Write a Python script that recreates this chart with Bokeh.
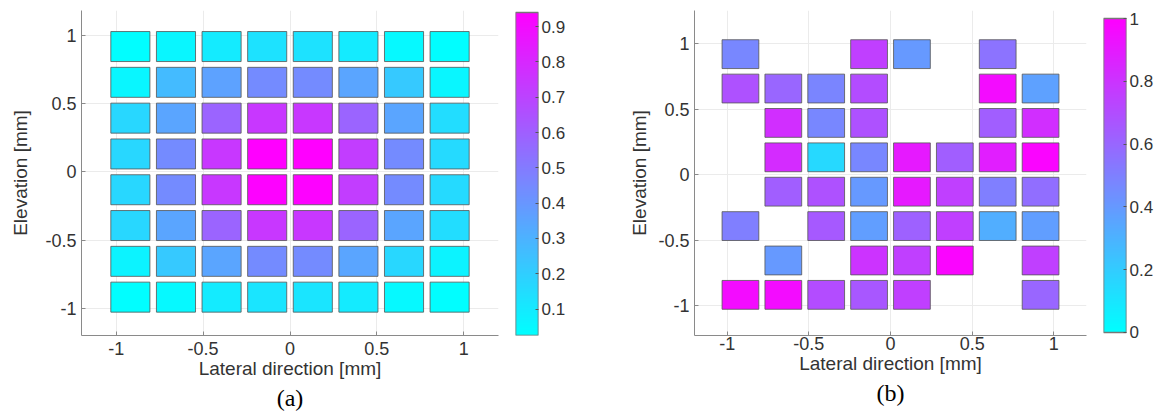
import numpy as np
from bokeh.plotting import figure
from bokeh.models import (ColumnDataSource, LinearColorMapper, Range1d, FixedTicker,
                          Title, CustomJSTickFormatter)
from bokeh.layouts import row
from bokeh.embed import file_html
from bokeh.resources import INLINE

# ---------------- data ----------------
# element centre positions (mm), lateral left->right, elevation top->bottom
lateral_pos = [-0.91875, -0.65625, -0.39375, -0.13125, 0.13125, 0.39375, 0.65625, 0.91875]
elevation_pos = [0.91875, 0.65625, 0.39375, 0.13125, -0.13125, -0.39375, -0.65625, -0.91875]

# panel (a): rows top -> bottom
values_a = [
    [0.03, 0.06, 0.10, 0.13, 0.13, 0.10, 0.05, 0.03],
    [0.06, 0.27, 0.36, 0.44, 0.44, 0.35, 0.22, 0.06],
    [0.17, 0.35, 0.58, 0.74, 0.74, 0.58, 0.35, 0.15],
    [0.17, 0.44, 0.74, 0.94, 0.94, 0.72, 0.44, 0.16],
    [0.17, 0.44, 0.74, 0.93, 0.93, 0.72, 0.44, 0.16],
    [0.17, 0.35, 0.58, 0.74, 0.74, 0.58, 0.35, 0.15],
    [0.07, 0.22, 0.35, 0.44, 0.44, 0.35, 0.17, 0.07],
    [0.03, 0.05, 0.10, 0.12, 0.12, 0.10, 0.05, 0.03],
]
# panel (b): rows top -> bottom, None = inactive element
values_b = [
    [0.47, None, None, 0.75, 0.40, None, 0.55, None],
    [0.68, 0.60, 0.48, 0.70, None, None, 0.95, 0.37],
    [None, 0.82, 0.47, 0.68, None, None, 0.63, 0.82],
    [None, 0.83, 0.15, 0.47, 0.90, 0.63, 0.88, 0.98],
    [None, 0.63, 0.68, 0.40, 0.90, 0.75, 0.50, 0.57],
    [0.50, None, 0.65, 0.38, 0.62, 0.75, 0.32, 0.38],
    [None, 0.40, None, 0.80, 0.75, 0.98, None, 0.75],
    [0.95, 0.95, 0.70, 0.66, 0.75, None, None, 0.60],
]

axis_ticks = [-1, -0.5, 0, 0.5, 1]
cbar_a_range = [0.025, 0.94]
cbar_a_ticks = [0.1, 0.2, 0.3, 0.4, 0.5, 0.6, 0.7, 0.8, 0.9]
cbar_b_range = [0.0, 1.0]
cbar_b_ticks = [0, 0.2, 0.4, 0.6, 0.8, 1]

x_label = "Lateral direction [mm]"
y_label = "Elevation [mm]"
captions = ["(a)", "(b)"]

# MATLAB "cool" colormap
cool = ["#%02x%02xff" % (i, 255 - i) for i in range(256)]

FONT = "Liberation Sans"
TXT = "#333333"
AX = "#8a8a8a"
H = 416
TOP = 10      # frame top (all frames in the row are aligned)
BOTTOM = 81   # space under the frames
fmt = CustomJSTickFormatter(code="return tick.toString();")


def panel(values, rng, caption, width, bl, br, yview, xl_standoff, ylab_standoff):
    mapper = LinearColorMapper(palette=cool, low=rng[0], high=rng[1])
    xs, ys, vs = [], [], []
    for r, rv in enumerate(values):
        for c, v in enumerate(rv):
            if v is None:
                continue
            xs.append(lateral_pos[c])
            ys.append(elevation_pos[r])
            vs.append(v)
    src = ColumnDataSource(dict(x=xs, y=ys, v=vs))
    p = figure(width=width, height=H, title=None,
               x_range=Range1d(-1.2, 1.2), y_range=Range1d(*yview),
               output_backend="svg", toolbar_location=None,
               min_border_left=bl, min_border_right=br, min_border_top=TOP, min_border_bottom=BOTTOM)
    p.rect(x="x", y="y", width=0.225, height=0.22, source=src,
           fill_color={"field": "v", "transform": mapper},
           line_color="#555555", line_width=1, line_alpha=0.8)
    p.outline_line_color = None
    p.background_fill_color = "white"
    p.border_fill_color = "white"
    for ax in (p.xaxis[0], p.yaxis[0]):
        ax.ticker = FixedTicker(ticks=axis_ticks)
        ax.formatter = fmt
        ax.major_tick_in = 4
        ax.major_tick_out = 0
        ax.minor_tick_line_color = None
        ax.axis_line_color = AX
        ax.major_tick_line_color = AX
        ax.major_label_text_font = FONT
        ax.major_label_text_font_size = "18px"
        ax.major_label_text_color = TXT
        ax.axis_label_text_font = FONT
        ax.axis_label_text_font_size = "19px"
        ax.axis_label_text_font_style = "normal"
        ax.axis_label_text_color = TXT
    p.xaxis.axis_label = x_label
    p.yaxis.axis_label = y_label
    p.xaxis.major_label_standoff = xl_standoff
    p.xaxis.axis_label_standoff = 0
    p.yaxis.major_label_standoff = 5
    p.yaxis.axis_label_standoff = ylab_standoff
    p.xgrid.ticker = FixedTicker(ticks=axis_ticks)
    p.ygrid.ticker = FixedTicker(ticks=axis_ticks)
    p.grid.grid_line_color = "#ebebeb"
    p.add_layout(Title(text=caption, align="center", text_font="Liberation Serif",
                       text_font_size="24px", text_font_style="normal",
                       text_color="black", standoff=3), "below")
    return p


def cbar(rng, ticks, width, br, yview):
    mapper = LinearColorMapper(palette=cool, low=rng[0], high=rng[1])
    c = figure(width=width, height=H, title=None,
               x_range=Range1d(0, 1), y_range=Range1d(*yview),
               x_axis_location=None, y_axis_location="right",
               output_backend="svg", toolbar_location=None,
               min_border_left=0, min_border_right=br, min_border_top=TOP, min_border_bottom=BOTTOM)
    grad = np.linspace(rng[0], rng[1], 256).reshape(256, 1)
    c.image(image=[grad], x=0, y=rng[0], dw=1, dh=rng[1] - rng[0], color_mapper=mapper)
    c.quad(left=0, right=1, bottom=rng[0], top=rng[1], fill_color=None,
           line_color="#777777", line_width=1.6)
    c.grid.visible = False
    c.outline_line_color = None
    c.background_fill_color = None
    ax = c.yaxis[0]
    ax.ticker = FixedTicker(ticks=ticks)
    ax.formatter = fmt
    ax.major_tick_in = 3
    ax.major_tick_out = 0
    ax.minor_tick_line_color = None
    ax.axis_line_color = None
    ax.major_tick_line_color = "#555555"
    ax.major_label_standoff = 3
    ax.major_label_text_font = FONT
    ax.major_label_text_font_size = "17px"
    ax.major_label_text_color = TXT
    return c


pa = panel(values_a, cbar_a_range, captions[0], 515, 81, 17, (-1.2, 1.183), 6, 11)
ca = cbar(cbar_a_range, cbar_a_ticks, 83, 60, (0.025, 0.9457))
pb = panel(values_b, cbar_b_range, captions[1], 505, 96, 17, (-1.229, 1.252), 1, 5)
cb = cbar(cbar_b_range, cbar_b_ticks, 57, 34, (-0.0096, 1.0255))

layout = row(pa, ca, pb, cb)
open("out.html", "w").write(file_html(layout, INLINE))
